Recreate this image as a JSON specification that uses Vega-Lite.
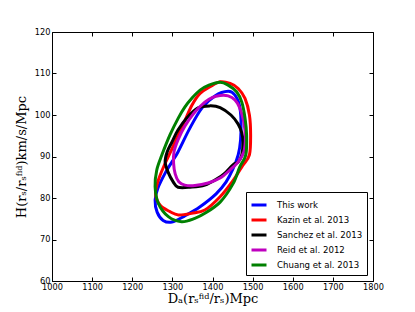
{
  "$schema": "https://vega.github.io/schema/vega-lite/v6.json",
  "width": 321,
  "height": 249,
  "autosize": {"type": "none"},
  "padding": {"left": 52, "top": 32, "right": 42, "bottom": 31},
  "background": "white",
  "config": {
    "view": {"stroke": null},
    "axis": {
      "domainColor": "black",
      "domainWidth": 1,
      "tickColor": "black",
      "tickSize": -4,
      "grid": false,
      "labelFont": "DejaVu Sans",
      "labelFontSize": 8.2,
      "labelColor": "black",
      "titleFont": "DejaVu Serif",
      "titleFontSize": 13,
      "titleFontWeight": "normal",
      "titleColor": "black"
    }
  },
  "data": {
    "values": [
      {"s": "This work", "i": 0, "x": 1439, "y": 105.7},
      {"s": "This work", "i": 1, "x": 1456, "y": 104.8},
      {"s": "This work", "i": 2, "x": 1467, "y": 102.4},
      {"s": "This work", "i": 3, "x": 1471, "y": 98.8},
      {"s": "This work", "i": 4, "x": 1470, "y": 94.0},
      {"s": "This work", "i": 5, "x": 1464, "y": 90.4},
      {"s": "This work", "i": 6, "x": 1451, "y": 87.0},
      {"s": "This work", "i": 7, "x": 1434, "y": 83.9},
      {"s": "This work", "i": 8, "x": 1409, "y": 81.0},
      {"s": "This work", "i": 9, "x": 1369, "y": 77.9},
      {"s": "This work", "i": 10, "x": 1331, "y": 75.7},
      {"s": "This work", "i": 11, "x": 1299, "y": 74.2},
      {"s": "This work", "i": 12, "x": 1277, "y": 74.6},
      {"s": "This work", "i": 13, "x": 1262, "y": 76.6},
      {"s": "This work", "i": 14, "x": 1257, "y": 79.5},
      {"s": "This work", "i": 15, "x": 1264, "y": 82.4},
      {"s": "This work", "i": 16, "x": 1282, "y": 86.0},
      {"s": "This work", "i": 17, "x": 1299, "y": 88.7},
      {"s": "This work", "i": 18, "x": 1314, "y": 91.1},
      {"s": "This work", "i": 19, "x": 1344, "y": 96.9},
      {"s": "This work", "i": 20, "x": 1374, "y": 101.7},
      {"s": "This work", "i": 21, "x": 1406, "y": 104.6},

      {"s": "Kazin et al. 2013", "i": 0, "x": 1492, "y": 90.4},
      {"s": "Kazin et al. 2013", "i": 1, "x": 1495, "y": 95.2},
      {"s": "Kazin et al. 2013", "i": 2, "x": 1492, "y": 100.0},
      {"s": "Kazin et al. 2013", "i": 3, "x": 1481, "y": 104.0},
      {"s": "Kazin et al. 2013", "i": 4, "x": 1464, "y": 106.4},
      {"s": "Kazin et al. 2013", "i": 5, "x": 1444, "y": 107.6},
      {"s": "Kazin et al. 2013", "i": 6, "x": 1419, "y": 108.0},
      {"s": "Kazin et al. 2013", "i": 7, "x": 1394, "y": 106.8},
      {"s": "Kazin et al. 2013", "i": 8, "x": 1369, "y": 105.2},
      {"s": "Kazin et al. 2013", "i": 9, "x": 1349, "y": 102.4},
      {"s": "Kazin et al. 2013", "i": 10, "x": 1330, "y": 98.4},
      {"s": "Kazin et al. 2013", "i": 11, "x": 1309, "y": 94.0},
      {"s": "Kazin et al. 2013", "i": 12, "x": 1294, "y": 90.8},
      {"s": "Kazin et al. 2013", "i": 13, "x": 1279, "y": 87.7},
      {"s": "Kazin et al. 2013", "i": 14, "x": 1265, "y": 84.3},
      {"s": "Kazin et al. 2013", "i": 15, "x": 1258, "y": 81.1},
      {"s": "Kazin et al. 2013", "i": 16, "x": 1269, "y": 78.3},
      {"s": "Kazin et al. 2013", "i": 17, "x": 1294, "y": 76.7},
      {"s": "Kazin et al. 2013", "i": 18, "x": 1315, "y": 75.9},
      {"s": "Kazin et al. 2013", "i": 19, "x": 1348, "y": 76.3},
      {"s": "Kazin et al. 2013", "i": 20, "x": 1381, "y": 77.1},
      {"s": "Kazin et al. 2013", "i": 21, "x": 1419, "y": 80.3},
      {"s": "Kazin et al. 2013", "i": 22, "x": 1452, "y": 84.3},
      {"s": "Kazin et al. 2013", "i": 23, "x": 1475, "y": 87.8},

      {"s": "Sanchez et al. 2013", "i": 0, "x": 1364, "y": 101.7},
      {"s": "Sanchez et al. 2013", "i": 1, "x": 1394, "y": 102.2},
      {"s": "Sanchez et al. 2013", "i": 2, "x": 1419, "y": 101.8},
      {"s": "Sanchez et al. 2013", "i": 3, "x": 1446, "y": 100.0},
      {"s": "Sanchez et al. 2013", "i": 4, "x": 1464, "y": 97.8},
      {"s": "Sanchez et al. 2013", "i": 5, "x": 1473, "y": 95.7},
      {"s": "Sanchez et al. 2013", "i": 6, "x": 1476, "y": 93.5},
      {"s": "Sanchez et al. 2013", "i": 7, "x": 1473, "y": 90.4},
      {"s": "Sanchez et al. 2013", "i": 8, "x": 1464, "y": 88.7},
      {"s": "Sanchez et al. 2013", "i": 9, "x": 1451, "y": 88.0},
      {"s": "Sanchez et al. 2013", "i": 10, "x": 1431, "y": 86.0},
      {"s": "Sanchez et al. 2013", "i": 11, "x": 1414, "y": 84.8},
      {"s": "Sanchez et al. 2013", "i": 12, "x": 1381, "y": 83.1},
      {"s": "Sanchez et al. 2013", "i": 13, "x": 1344, "y": 82.6},
      {"s": "Sanchez et al. 2013", "i": 14, "x": 1314, "y": 82.6},
      {"s": "Sanchez et al. 2013", "i": 15, "x": 1302, "y": 83.9},
      {"s": "Sanchez et al. 2013", "i": 16, "x": 1289, "y": 86.3},
      {"s": "Sanchez et al. 2013", "i": 17, "x": 1282, "y": 88.7},
      {"s": "Sanchez et al. 2013", "i": 18, "x": 1287, "y": 91.1},
      {"s": "Sanchez et al. 2013", "i": 19, "x": 1299, "y": 93.5},
      {"s": "Sanchez et al. 2013", "i": 20, "x": 1314, "y": 96.4},
      {"s": "Sanchez et al. 2013", "i": 21, "x": 1336, "y": 99.3},

      {"s": "Reid et al. 2012", "i": 0, "x": 1381, "y": 103.1},
      {"s": "Reid et al. 2012", "i": 1, "x": 1399, "y": 104.2},
      {"s": "Reid et al. 2012", "i": 2, "x": 1419, "y": 104.7},
      {"s": "Reid et al. 2012", "i": 3, "x": 1439, "y": 104.6},
      {"s": "Reid et al. 2012", "i": 4, "x": 1456, "y": 103.6},
      {"s": "Reid et al. 2012", "i": 5, "x": 1468, "y": 101.7},
      {"s": "Reid et al. 2012", "i": 6, "x": 1478, "y": 98.3},
      {"s": "Reid et al. 2012", "i": 7, "x": 1482, "y": 94.5},
      {"s": "Reid et al. 2012", "i": 8, "x": 1478, "y": 91.1},
      {"s": "Reid et al. 2012", "i": 9, "x": 1464, "y": 88.7},
      {"s": "Reid et al. 2012", "i": 10, "x": 1444, "y": 86.8},
      {"s": "Reid et al. 2012", "i": 11, "x": 1419, "y": 84.8},
      {"s": "Reid et al. 2012", "i": 12, "x": 1389, "y": 83.6},
      {"s": "Reid et al. 2012", "i": 13, "x": 1356, "y": 83.0},
      {"s": "Reid et al. 2012", "i": 14, "x": 1331, "y": 83.1},
      {"s": "Reid et al. 2012", "i": 15, "x": 1316, "y": 83.9},
      {"s": "Reid et al. 2012", "i": 16, "x": 1307, "y": 85.8},
      {"s": "Reid et al. 2012", "i": 17, "x": 1303, "y": 88.4},
      {"s": "Reid et al. 2012", "i": 18, "x": 1304, "y": 91.1},
      {"s": "Reid et al. 2012", "i": 19, "x": 1314, "y": 94.0},
      {"s": "Reid et al. 2012", "i": 20, "x": 1331, "y": 97.3},
      {"s": "Reid et al. 2012", "i": 21, "x": 1354, "y": 100.5},

      {"s": "Chuang et al. 2013", "i": 0, "x": 1483, "y": 90.4},
      {"s": "Chuang et al. 2013", "i": 1, "x": 1485, "y": 95.2},
      {"s": "Chuang et al. 2013", "i": 2, "x": 1481, "y": 99.3},
      {"s": "Chuang et al. 2013", "i": 3, "x": 1473, "y": 103.1},
      {"s": "Chuang et al. 2013", "i": 4, "x": 1460, "y": 105.6},
      {"s": "Chuang et al. 2013", "i": 5, "x": 1439, "y": 107.2},
      {"s": "Chuang et al. 2013", "i": 6, "x": 1419, "y": 107.9},
      {"s": "Chuang et al. 2013", "i": 7, "x": 1391, "y": 107.2},
      {"s": "Chuang et al. 2013", "i": 8, "x": 1369, "y": 106.0},
      {"s": "Chuang et al. 2013", "i": 9, "x": 1349, "y": 104.1},
      {"s": "Chuang et al. 2013", "i": 10, "x": 1331, "y": 101.9},
      {"s": "Chuang et al. 2013", "i": 11, "x": 1315, "y": 99.3},
      {"s": "Chuang et al. 2013", "i": 12, "x": 1294, "y": 95.2},
      {"s": "Chuang et al. 2013", "i": 13, "x": 1274, "y": 90.4},
      {"s": "Chuang et al. 2013", "i": 14, "x": 1261, "y": 86.7},
      {"s": "Chuang et al. 2013", "i": 15, "x": 1257, "y": 82.7},
      {"s": "Chuang et al. 2013", "i": 16, "x": 1265, "y": 78.7},
      {"s": "Chuang et al. 2013", "i": 17, "x": 1290, "y": 75.5},
      {"s": "Chuang et al. 2013", "i": 18, "x": 1323, "y": 74.3},
      {"s": "Chuang et al. 2013", "i": 19, "x": 1356, "y": 75.1},
      {"s": "Chuang et al. 2013", "i": 20, "x": 1381, "y": 76.3},
      {"s": "Chuang et al. 2013", "i": 21, "x": 1419, "y": 79.0},
      {"s": "Chuang et al. 2013", "i": 22, "x": 1451, "y": 83.4},
      {"s": "Chuang et al. 2013", "i": 23, "x": 1468, "y": 87.5}
    ]
  },
  "layer": [
    {
      "mark": {"type": "line", "interpolate": "cardinal-closed", "strokeWidth": 3, "strokeJoin": "round"},
      "encoding": {
        "x": {
          "field": "x", "type": "quantitative",
          "scale": {"domain": [1000, 1800], "nice": false, "zero": false},
          "axis": {"orient": "bottom", "values": [1000, 1100, 1200, 1300, 1400, 1500, 1600, 1700, 1800], "format": "d", "labelPadding": 6, "title": "Dₐ(rₛᶠⁱᵈ/rₛ)Mpc", "titlePadding": 2, "labelFlush": false}
        },
        "y": {
          "field": "y", "type": "quantitative",
          "scale": {"domain": [60, 120], "nice": false, "zero": false},
          "axis": {"orient": "left", "values": [60, 70, 80, 90, 100, 110, 120], "format": "d", "labelPadding": 6, "title": "H(rₛ/rₛᶠⁱᵈ)km/s/Mpc", "titlePadding": 6, "labelFlush": false}
        },
        "color": {
          "field": "s", "type": "nominal",
          "scale": {
            "domain": ["This work", "Kazin et al. 2013", "Sanchez et al. 2013", "Reid et al. 2012", "Chuang et al. 2013"],
            "range": ["#0000ff", "#ff0000", "#000000", "#bf00bf", "#008000"]
          },
          "legend": {
            "orient": "bottom-right", "offset": 6, "title": null, "padding": 4,
            "strokeColor": "black", "fillColor": "white",
            "symbolType": "stroke", "symbolStrokeWidth": 3, "symbolSize": 225,
            "labelFont": "DejaVu Sans", "labelFontSize": 8.6, "labelColor": "black",
            "rowPadding": -2.6, "labelOffset": 9
          }
        },
        "order": {"field": "i", "type": "quantitative"}
      }
    },
    {
      "mark": {"type": "point", "opacity": 0},
      "encoding": {
        "x": {
          "field": "x", "type": "quantitative",
          "axis": {"orient": "top", "values": [1000, 1100, 1200, 1300, 1400, 1500, 1600, 1700, 1800], "labels": false, "title": null}
        },
        "y": {
          "field": "y", "type": "quantitative",
          "axis": {"orient": "right", "values": [60, 70, 80, 90, 100, 110, 120], "labels": false, "title": null}
        }
      }
    }
  ]
}
